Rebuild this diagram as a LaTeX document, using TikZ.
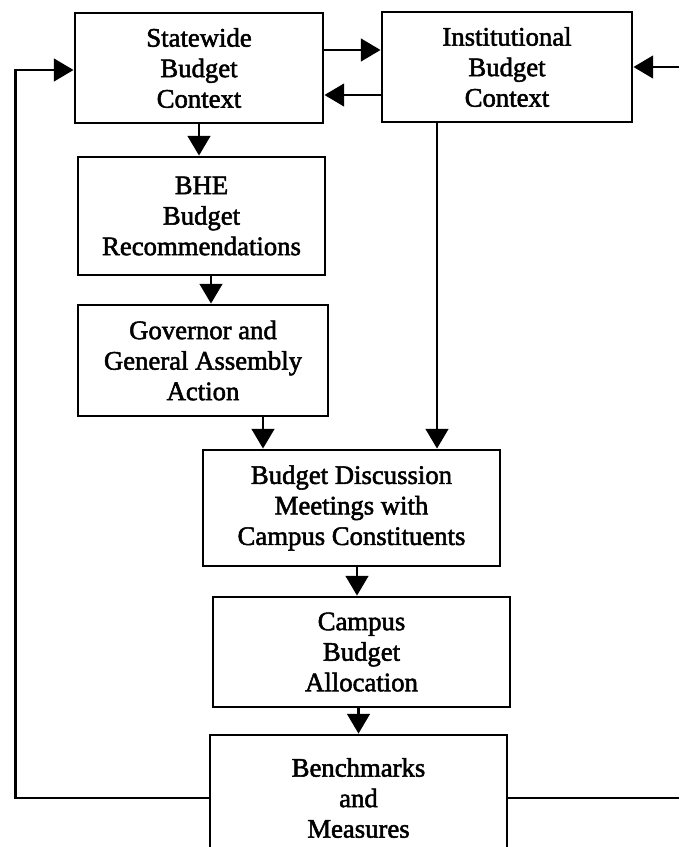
\documentclass[tikz,border=0pt]{standalone}
\usepackage{fontspec}
\setmainfont{Liberation Serif}
\newfontface\scanfont{Liberation Serif}[FakeBold=2]
\usetikzlibrary{calc,arrows.meta}

\begin{document}
\begin{tikzpicture}[x=0.025cm,y=-0.025cm,
	box/.style={draw, line width=2pt, align=center, inner sep=0pt, font=\scanfont\fontsize{19}{21.7}\selectfont},
	arr/.style={line width=2pt, -{Triangle[length=14pt,width=16pt]}}]
					\useasboundingbox (0,0) rectangle (679,847);

					% the boxes
					\node[box, minimum width=6.2cm, minimum height=2.75cm] (state) at (199,68) {Statewide\\Budget\\Context};
					\node[box, minimum width=6.25cm, minimum height=2.75cm] (inst) at (507,67) {Institutional\\Budget\\Context};
					\node[box, minimum width=6.175cm, minimum height=2.95cm] (bhe) at (201.5,216) {BHE\\Budget\\Recommendations};
					\node[box, minimum width=6.25cm, minimum height=2.775cm] (gov) at (203,360.5) {Governor and\\General Assembly\\Action};
					\node[box, minimum width=7.425cm, minimum height=2.9cm] (disc) at (351.5,508) {Budget Discussion\\Meetings with\\Campus Constituents};
					\node[box, minimum width=7.425cm, minimum height=2.75cm] (alloc) at (361.5,652) {Campus\\Budget\\Allocation};
					\node[box, minimum width=7.425cm, minimum height=3.15cm] (bench) at (358.5,798) {Benchmarks\\and\\Measures};

					\coordinate (rin) at (679,67);

					% between the two contexts
					\draw[arr] ($(state.east)+(0,-18)$) -- ($(inst.west)+(0,-17)$);
					\draw[arr] ($(inst.west)+(0,28)$) -- ($(state.east)+(0,27)$);
					\draw[arr] (rin) -- (inst.east);

					% down the chain
					\draw[arr] (state.south) -- (state.south |- bhe.north);
					\draw[arr] ($(bhe.south)+(9.5,0)$) coordinate (b1) -- (b1 |- gov.north);
					\draw[arr] ($(gov.south)+(60,0)$) coordinate (g1) -- (g1 |- disc.north);
					\draw[arr] ($(inst.south)+(-70,0)$) coordinate (i1) -- (i1 |- disc.north);
					\draw[arr] ($(disc.south)+(5.5,0)$) coordinate (d1) -- (d1 |- alloc.north);
					\draw[arr] ($(alloc.south)+(-3,0)$) coordinate (a1) -- (a1 |- bench.north);

					% feedback lines
					\draw[arr] (bench.west) -| ($(state.west)+(-58,2)$) -- ($(state.west)+(0,2)$);
					\draw[line width=2pt] (bench.east) -- (bench.east -| rin);
\end{tikzpicture}
\end{document}
